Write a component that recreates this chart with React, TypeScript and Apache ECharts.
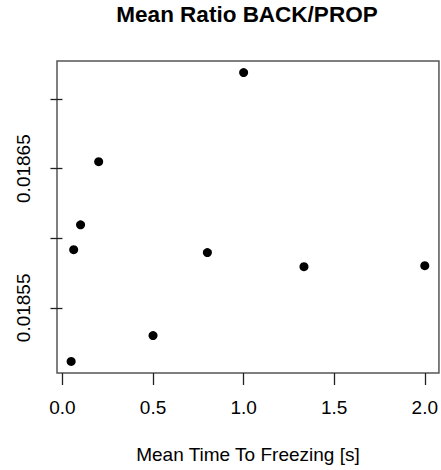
import React, { useEffect, useRef } from "react";
import * as echarts from "echarts";

// Mean time to freezing (s) and the mean BACK/PROP ratio at each setting
const timeToFreezing: number[] = [0.048, 0.062, 0.1, 0.2, 0.5, 0.8, 1.0, 1.333, 2.0];
const meanRatio: number[] = [
  0.0185115, 0.0185918, 0.0186096, 0.018655, 0.0185301, 0.0185897, 0.018719, 0.0185796,
  0.0185803,
];

const xTicks: number[] = [0, 0.5, 1.0, 1.5, 2.0];
const yTicks: number[] = [0.01855, 0.0186, 0.01865, 0.0187];
const yTickLabels: number[] = [0.01855, 0.01865];

const FONT = "'Liberation Sans', Arial, Helvetica, sans-serif";

// Pad the data range by 4% on each side, like a base-graphics plot
function paddedRange(values: number[]): [number, number] {
  const lo = Math.min(...values);
  const hi = Math.max(...values);
  const pad = (hi - lo) * 0.04;
  return [lo - pad, hi + pad];
}

export default function App() {
  const ref = useRef<HTMLDivElement>(null);

  useEffect(() => {
    if (!ref.current) return;
    const chart = echarts.init(ref.current, undefined, { renderer: "svg" });
    const [xMin, xMax] = paddedRange(timeToFreezing);
    const [yMin, yMax] = paddedRange(meanRatio);

    chart.setOption({
      animation: false,
      backgroundColor: "#ffffff",
      title: {
        text: "Mean Ratio BACK/PROP",
        left: 247,
        top: 3,
        padding: 0,
        textAlign: "center",
        textStyle: { fontFamily: FONT, fontSize: 22.5, fontWeight: "bold", color: "#000" },
      },
      grid: {
        left: 57,
        top: 61,
        width: 383,
        height: 312,
        show: true,
        borderColor: "#555",
        borderWidth: 1.5,
        backgroundColor: "transparent",
      },
      xAxis: {
        type: "value",
        min: xMin,
        max: xMax,
        name: "Mean Time To Freezing [s]",
        nameLocation: "middle",
        nameGap: 72,
        nameTextStyle: { fontFamily: FONT, fontSize: 19, color: "#000" },
        axisLine: { show: false },
        splitLine: { show: false },
        axisTick: {
          show: true,
          inside: false,
          length: 12,
          customValues: xTicks,
          lineStyle: { color: "#222", width: 1.3 },
        },
        axisLabel: {
          customValues: xTicks,
          margin: 25,
          fontFamily: FONT,
          fontSize: 19,
          color: "#000",
          formatter: (v: number) => v.toFixed(1),
        },
      },
      yAxis: {
        type: "value",
        min: yMin,
        max: yMax,
        axisLine: { show: false },
        splitLine: { show: false },
        axisTick: {
          show: true,
          inside: false,
          length: 12,
          customValues: yTicks,
          lineStyle: { color: "#222", width: 1.3 },
        },
        axisLabel: {
          customValues: yTickLabels,
          rotate: 90,
          margin: 24,
          fontFamily: FONT,
          fontSize: 19,
          color: "#000",
          formatter: (v: number) => v.toFixed(5),
        },
      },
      series: [
        {
          type: "scatter",
          data: timeToFreezing.map((t, i) => [t, meanRatio[i]]),
          symbol: "circle",
          symbolSize: 9,
          itemStyle: { color: "#000", opacity: 1 },
        },
      ],
    });

    return () => chart.dispose();
  }, []);

  return (
    <div
      ref={ref}
      style={{ position: "absolute", left: 0, top: 0, width: 441, height: 470 }}
    />
  );
}
